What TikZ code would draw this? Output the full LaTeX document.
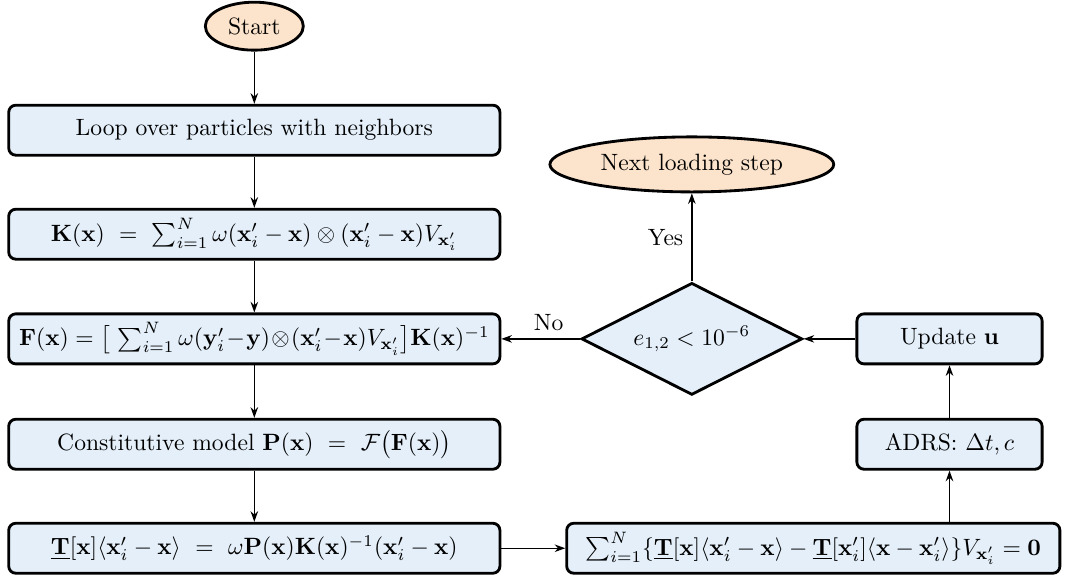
\documentclass[tikz,border=0pt]{standalone}
\usepackage{amsmath,amssymb,tikz}
\usetikzlibrary{arrows.meta,shapes.geometric}

\definecolor{boxblue}{RGB}{228,239,249}
\definecolor{peach}{RGB}{252,227,203}

\begin{document}
\begin{tikzpicture}[
  stepbox/.style={draw, line width=1.2pt, rounded corners=3pt, fill=boxblue, minimum height=0.745cm, inner sep=2pt},
  wide/.style={stepbox, minimum width=7.32cm},
  endpoint/.style={draw, ellipse, line width=1.2pt, fill=peach, inner sep=1pt},
  arr/.style={-{Stealth[length=4.5pt, width=3.2pt]}, line width=0.6pt}]
\useasboundingbox (0,0) rectangle (16.05,-8.57);
% left column
\node[endpoint, minimum width=1.46cm, minimum height=0.715cm] (start) at (3.79,-0.39) {Start};
\node[wide] (loop) at (3.79,-1.94) {Loop over particles with neighbors};
\node[wide] (kmat) at (3.79,-3.49) {$\mathbf{K}(\mathbf{x})\ =\ \sum_{i=1}^{N}\omega(\mathbf{x}'_i-\mathbf{x})\otimes(\mathbf{x}'_i-\mathbf{x})V_{\mathbf{x}'_i}$};
\node[wide] (fgrad) at (3.79,-5.05) {$\mathbf{F}(\mathbf{x})=\big[\,\sum_{i=1}^{N}\omega(\mathbf{y}'_i\!-\!\mathbf{y})\!\otimes\!(\mathbf{x}'_i\!-\!\mathbf{x})V_{\mathbf{x}'_i}\big]\mathbf{K}(\mathbf{x})^{-1}$};
\node[wide] (const) at (3.79,-6.62) {Constitutive model $\mathbf{P}(\mathbf{x})\ =\ \mathcal{F}\big(\mathbf{F}(\mathbf{x})\big)$};
\node[wide] (tstate) at (3.79,-8.17) {$\underline{\mathbf{T}}[\mathbf{x}]\langle\mathbf{x}'_i-\mathbf{x}\rangle\ =\ \omega\mathbf{P}(\mathbf{x})\mathbf{K}(\mathbf{x})^{-1}(\mathbf{x}'_i-\mathbf{x})$};
% right column
\node[stepbox, minimum width=7.35cm] (sumbox) at (12.12,-8.17) {$\sum_{i=1}^{N}\{\underline{\mathbf{T}}[\mathbf{x}]\langle\mathbf{x}'_i-\mathbf{x}\rangle-\underline{\mathbf{T}}[\mathbf{x}'_i]\langle\mathbf{x}-\mathbf{x}'_i\rangle\}V_{\mathbf{x}'_i}=\mathbf{0}$};
\node[stepbox, minimum width=2.76cm] (adrs) at (14.15,-6.62) {ADRS: $\Delta t, c$};
\node[stepbox, minimum width=2.76cm] (update) at (14.15,-5.05) {Update $\mathbf{u}$};
\node[draw, diamond, line width=1.2pt, fill=boxblue, aspect=2, minimum width=3.29cm, minimum height=1.67cm, inner sep=0pt] (check) at (10.31,-5.05) {$e_{1,2}<10^{-6}$};
\node[endpoint, minimum width=4.23cm, minimum height=0.82cm] (next) at (10.31,-2.45) {Next loading step};
% connectors
\draw[arr] (start) -- (loop);
\draw[arr] (loop) -- (kmat);
\draw[arr] (kmat) -- (fgrad);
\draw[arr] (fgrad) -- (const);
\draw[arr] (const) -- (tstate);
\draw[arr] (tstate) -- (sumbox);
\draw[arr] (sumbox.north -| adrs.south) -- (adrs.south);
\draw[arr] (adrs) -- (update);
\draw[arr] (update) -- (check);
\draw[arr] (check) -- node[left] {Yes} (next);
\draw[arr] (check) -- node[above, pos=0.4] {No} (fgrad);
\end{tikzpicture}
\end{document}
